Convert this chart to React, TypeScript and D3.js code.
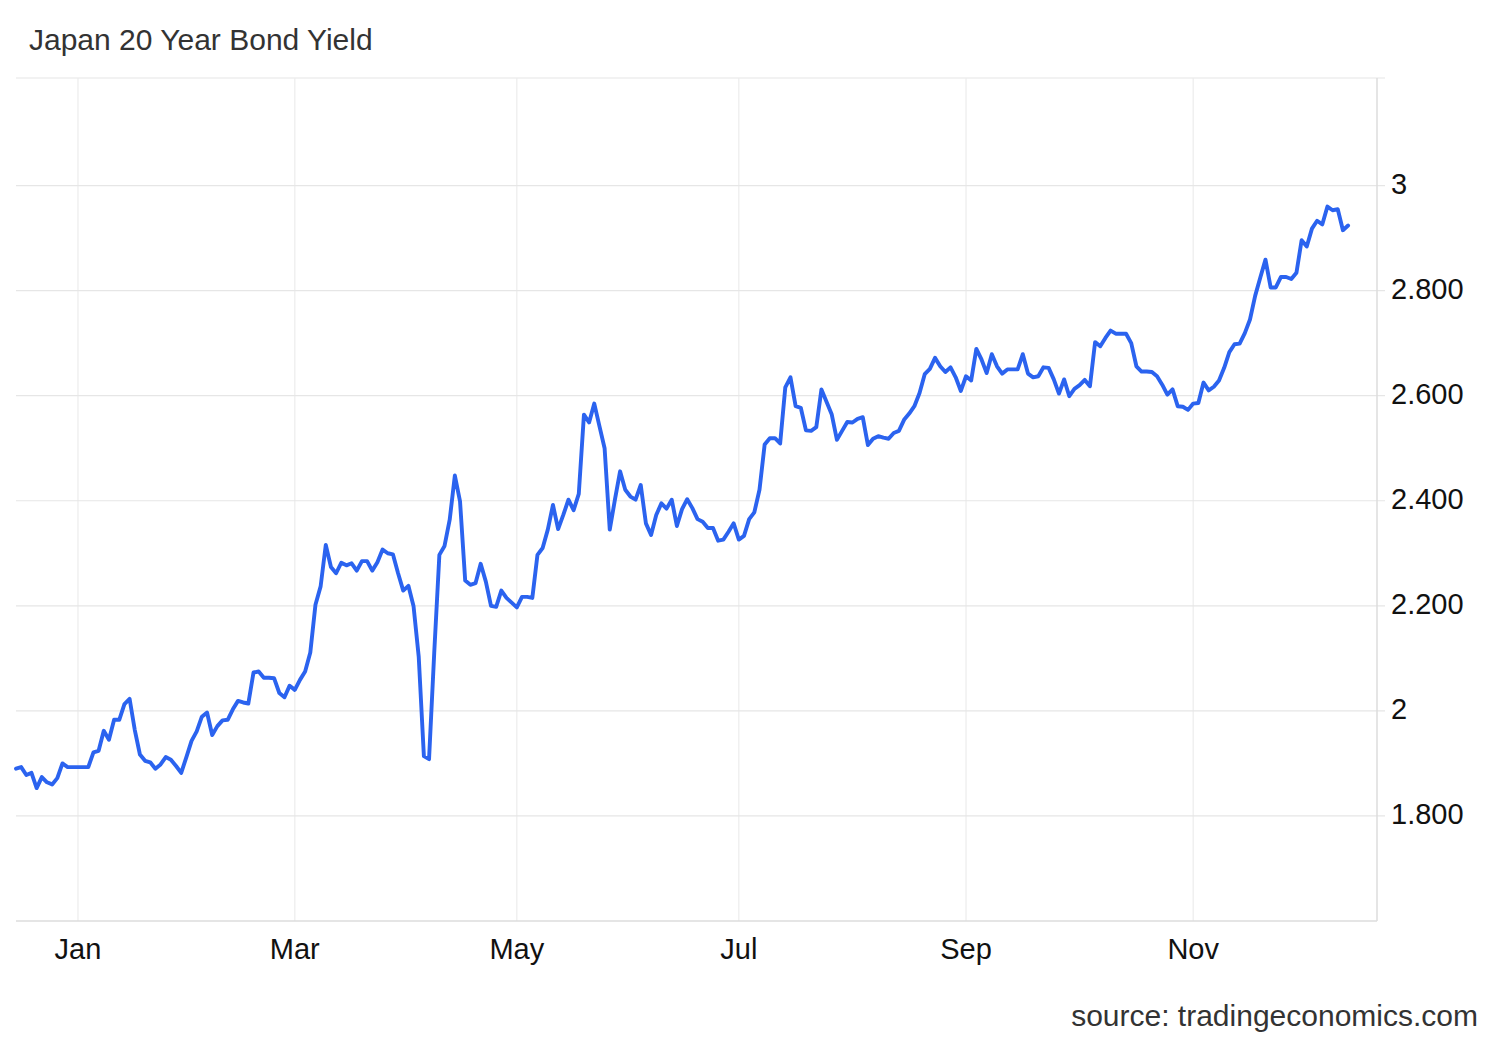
import React from "react";
import * as d3 from "d3";

const title = "Japan 20 Year Bond Yield";
const source = "source: tradingeconomics.com";

// Daily yields (%) from mid-Dec 2024 to mid-Dec 2025, one per trading day
const values: number[] = [
  1.890, 1.893, 1.878, 1.882, 1.853, 1.874, 1.864, 1.860, 1.872, 1.900, 1.893, 1.893,
  1.893, 1.893, 1.893, 1.921, 1.924, 1.962, 1.945, 1.983, 1.983, 2.013, 2.023, 1.964,
  1.917, 1.905, 1.902, 1.890, 1.898, 1.912, 1.907, 1.895, 1.882, 1.912, 1.943, 1.961,
  1.989, 1.997, 1.954, 1.971, 1.982, 1.983, 2.003, 2.019, 2.016, 2.014, 2.073, 2.075,
  2.063, 2.063, 2.062, 2.034, 2.026, 2.048, 2.040, 2.059, 2.075, 2.111, 2.202, 2.237,
  2.316, 2.274, 2.262, 2.282, 2.277, 2.281, 2.267, 2.285, 2.285, 2.267, 2.283, 2.307,
  2.300, 2.298, 2.262, 2.229, 2.238, 2.199, 2.103, 1.914, 1.908, 2.110, 2.297, 2.314,
  2.364, 2.448, 2.399, 2.248, 2.240, 2.243, 2.280, 2.246, 2.200, 2.198, 2.229, 2.215,
  2.206, 2.197, 2.217, 2.217, 2.215, 2.297, 2.310, 2.345, 2.392, 2.346, 2.373, 2.402,
  2.382, 2.413, 2.564, 2.549, 2.585, 2.542, 2.500, 2.345, 2.402, 2.456, 2.421, 2.408,
  2.402, 2.430, 2.357, 2.335, 2.373, 2.395, 2.385, 2.402, 2.352, 2.384, 2.403, 2.386,
  2.365, 2.360, 2.348, 2.348, 2.324, 2.326, 2.341, 2.357, 2.326, 2.333, 2.365, 2.378,
  2.421, 2.507, 2.519, 2.519, 2.509, 2.616, 2.635, 2.580, 2.577, 2.534, 2.533, 2.540,
  2.612, 2.588, 2.564, 2.516, 2.533, 2.550, 2.549, 2.556, 2.559, 2.506, 2.518, 2.523,
  2.520, 2.518, 2.529, 2.533, 2.554, 2.566, 2.580, 2.605, 2.641, 2.651, 2.672, 2.656,
  2.645, 2.654, 2.635, 2.609, 2.637, 2.629, 2.689, 2.669, 2.643, 2.679, 2.656, 2.642,
  2.650, 2.650, 2.650, 2.679, 2.642, 2.635, 2.637, 2.654, 2.653, 2.631, 2.604, 2.631,
  2.599, 2.613, 2.620, 2.630, 2.618, 2.702, 2.694, 2.710, 2.724, 2.718, 2.718, 2.718,
  2.700, 2.656, 2.646, 2.646, 2.645, 2.637, 2.621, 2.602, 2.612, 2.580, 2.579, 2.573,
  2.585, 2.586, 2.625, 2.610, 2.617, 2.629, 2.653, 2.683, 2.698, 2.699, 2.719, 2.745,
  2.790, 2.825, 2.859, 2.806, 2.806, 2.826, 2.826, 2.822, 2.834, 2.896, 2.884, 2.918,
  2.933, 2.926, 2.960, 2.953, 2.955, 2.915, 2.924,
];

// Month tick labels and the index of the first trading day of that month
const monthLabels = ["Jan", "Mar", "May", "Jul", "Sep", "Nov"];
const monthIndex = [12, 54, 97, 140, 184, 228];

// Y-axis ticks and labels
const yTicks = [1.8, 2.0, 2.2, 2.4, 2.6, 2.8, 3.0];
const yLabels = ["1.800", "2", "2.200", "2.400", "2.600", "2.800", "3"];

const W = 1500;
const H = 1040;
const left = 16;
const right = 1377;
const top = 78;
const bottom = 921;

export default function App() {
  const x = d3
    .scaleLinear()
    .domain([0, values.length - 1 + 5.6])
    .range([left, right]);
  const y = d3.scaleLinear().domain([1.6, 3.2]).range([bottom, 80.5]);

  const line = d3
    .line<number>()
    .x((_, i) => x(i))
    .y((d) => y(d));

  const font = "'Liberation Sans', Arial, Helvetica, sans-serif";
  const grid = "#e6e6e6";

  return (
    <svg
      width={W}
      height={H}
      viewBox={`0 0 ${W} ${H}`}
      style={{ position: "absolute", left: 0, top: 0, background: "#fff" }}
      fontFamily={font}
    >
      <rect x={0} y={0} width={W} height={H} fill="#fff" />
      <text x={29} y={50} fontSize={30} fill="#333">
        {title}
      </text>

      {/* top border */}
      <line x1={left} x2={right + 8} y1={top} y2={top} stroke={grid} strokeWidth={1.2} />

      {/* vertical gridlines */}
      {monthIndex.map((m, i) => (
        <line
          key={"v" + i}
          x1={x(m)}
          x2={x(m)}
          y1={top}
          y2={bottom}
          stroke="#ececec"
          strokeWidth={1.2}
        />
      ))}

      {/* horizontal gridlines */}
      {yTicks.map((t, i) => (
        <line
          key={"h" + i}
          x1={left}
          x2={right + 8}
          y1={y(t)}
          y2={y(t)}
          stroke={grid}
          strokeWidth={1.2}
        />
      ))}

      {/* axis lines */}
      <line x1={right} x2={right} y1={top} y2={bottom} stroke="#dcdcdc" strokeWidth={1.5} />
      <line x1={left} x2={right} y1={bottom} y2={bottom} stroke="#dcdcdc" strokeWidth={1.5} />

      {/* y labels */}
      {yTicks.map((t, i) => (
        <text
          key={"yl" + i}
          x={1391}
          y={y(t) - 2}
          dy="0.35em"
          fontSize={29}
          fill="#111"
        >
          {yLabels[i]}
        </text>
      ))}

      {/* x labels */}
      {monthIndex.map((m, i) => (
        <text
          key={"xl" + i}
          x={x(m)}
          y={959}
          textAnchor="middle"
          fontSize={29}
          fill="#111"
        >
          {monthLabels[i]}
        </text>
      ))}

      <path
        d={line(values) || ""}
        fill="none"
        stroke="#2b63ef"
        strokeWidth={3.9}
        strokeLinejoin="round"
        strokeLinecap="round"
      />

      <text x={1478} y={1026} textAnchor="end" fontSize={30} fill="#333">
        {source}
      </text>
    </svg>
  );
}
